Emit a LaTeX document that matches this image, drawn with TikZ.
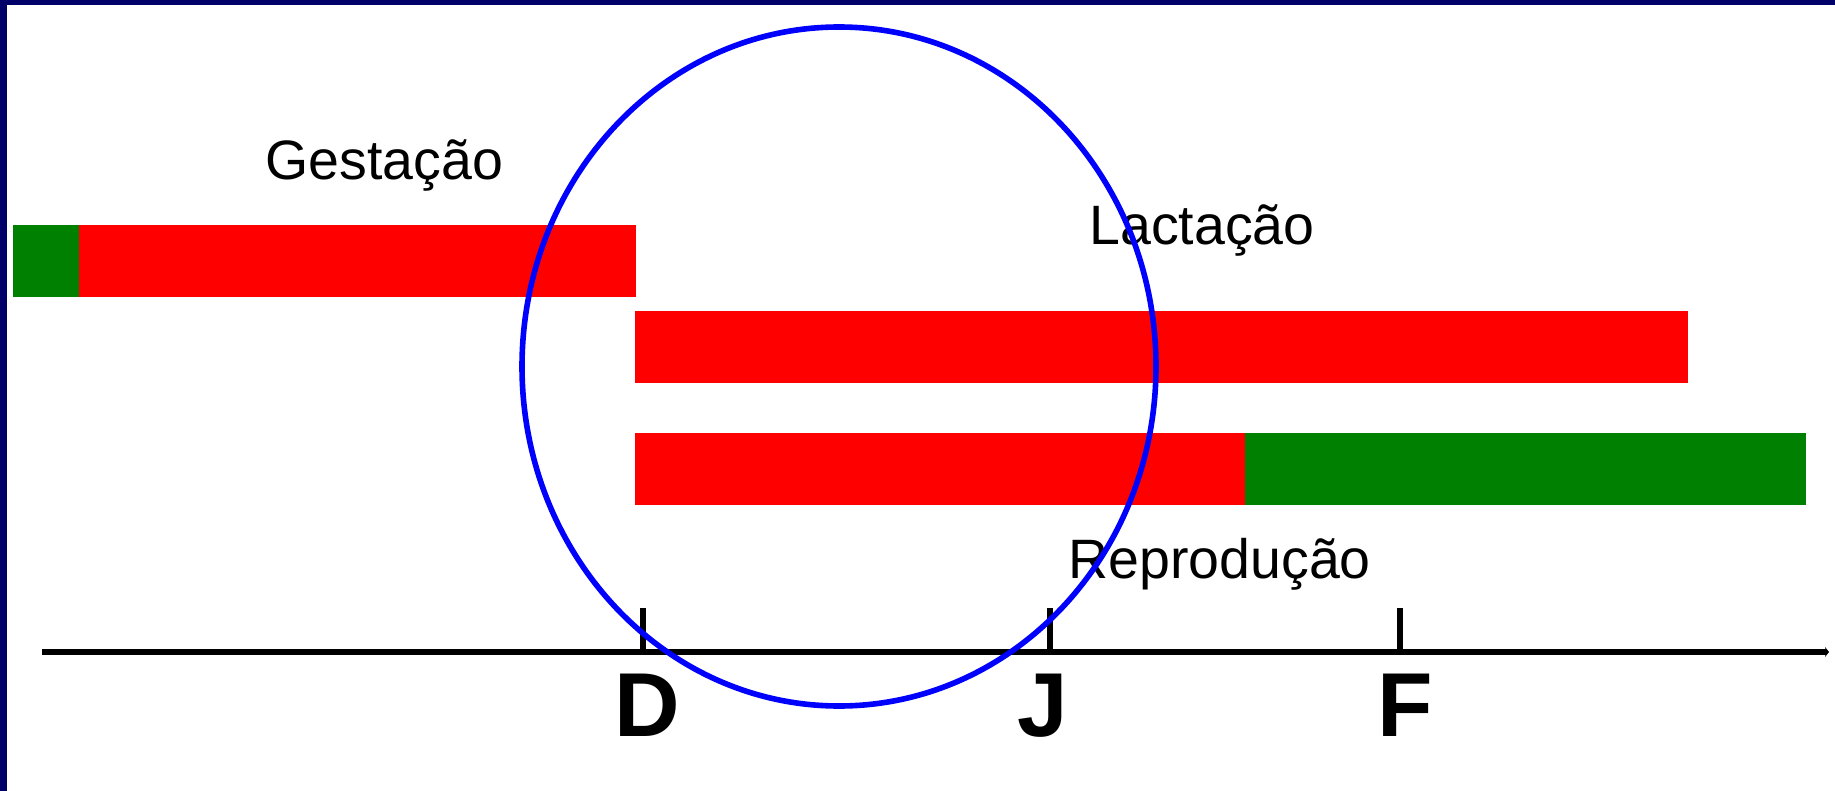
\documentclass[tikz,border=0pt]{standalone}
\usepackage{fontspec}
\setmainfont{Liberation Sans}
\usetikzlibrary{arrows.meta}
\definecolor{navyframe}{RGB}{0,0,104}
\definecolor{barred}{RGB}{255,0,0}
\definecolor{bargreen}{RGB}{0,128,0}
\definecolor{ringblue}{RGB}{0,0,255}
\tikzset{
  redbar/.style={fill=barred},
  greenbar/.style={fill=bargreen},
  phase/.style={inner sep=0pt, anchor=base west, font=\fontsize{27.75}{30}\selectfont},
  month/.style={inner sep=0pt, anchor=base, font=\bfseries\fontsize{45.4}{50}\selectfont},
  axisline/.style={line width=3.4pt, -{Stealth[length=2pt,width=5pt]}},
  tickline/.style={line width=2.8pt},
  ring/.style={draw=ringblue, line width=2.8pt}
}
\begin{document}
\begin{tikzpicture}[x=0.5pt,y=-0.5pt]
\useasboundingbox (0,0) rectangle (1835,791);
\fill[white] (0,0) rectangle (1835,791);
% frame (left and top)
\fill[navyframe] (0,0) rectangle (7,791);
\fill[navyframe] (0,0) rectangle (1835,5);
% bars
\fill[greenbar] (13,225) rectangle (79,297);
\fill[redbar] (79,225) rectangle (636,297);
\fill[redbar] (635,311) rectangle (1688,383);
\fill[redbar] (635,433) rectangle (1245,505);
\fill[greenbar] (1245,433) rectangle (1806,505);
% labels
\node[phase] (gest) at (265,180) {Gestação};
\node[phase] (lact) at (1089,245) {Lactação};
\node[phase] (repr) at (1068,578) {Reprodução};
% axis
\coordinate (axL) at (42,652);
\coordinate (axR) at (1829,652);
\draw[axisline] (axL) -- (axR);
\coordinate (tD) at (643,652);
\coordinate (tJ) at (1050,652);
\coordinate (tF) at (1400,652);
\coordinate (tDtop) at (643,608);
\coordinate (tJtop) at (1050,608);
\coordinate (tFtop) at (1400,608);
\draw[tickline] (tD) -- (tDtop);
\draw[tickline] (tJ) -- (tJtop);
\draw[tickline] (tF) -- (tFtop);
\node[month] (mD) at (647,736) {D};
\node[month] (mJ) at (1043,736) {J};
\node[month] (mF) at (1405,736) {F};
% ring
\draw[ring] (839,366.5) ellipse [x radius=317, y radius=339.5];
\end{tikzpicture}
\end{document}
